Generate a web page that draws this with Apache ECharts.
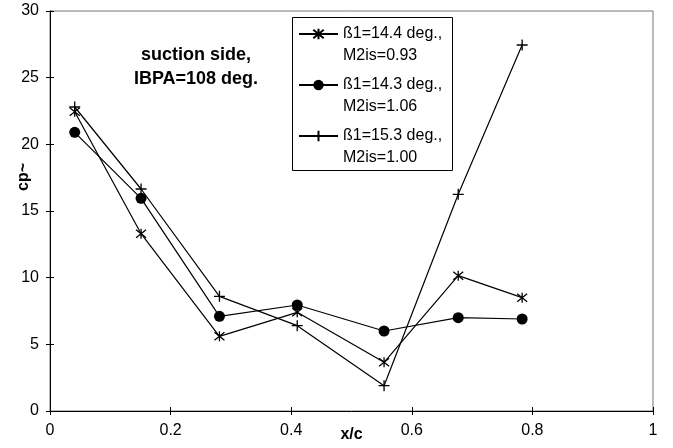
<!DOCTYPE html>
<html>
<head>
<meta charset="utf-8">
<script src="https://cdn.jsdelivr.net/npm/echarts@6/dist/echarts.min.js"></script>
<style>
html,body{margin:0;padding:0;background:#fff;}
#chart{width:673px;height:448px;}
</style>
</head>
<body>
<div id="chart"></div>
<script>
// ---- data ----
var xPositions = [0.041, 0.151, 0.281, 0.41, 0.554, 0.677, 0.783];
var seriesNames = ['ß1=14.4 deg.,\nM2is=0.93', 'ß1=14.3 deg.,\nM2is=1.06', 'ß1=15.3 deg.,\nM2is=1.00'];
var cpA = [22.45, 13.3, 5.6, 7.4, 3.65, 10.15, 8.5];
var cpB = [20.9, 15.95, 7.1, 7.95, 6.0, 7.0, 6.9];
var cpC = [22.8, 16.65, 8.6, 6.4, 1.9, 16.25, 27.45];
var xTicks = {min: 0, max: 1, interval: 0.2};
var yTicks = {min: 0, max: 30, interval: 5};
var xTitle = 'x/c';
var yTitle = 'cp~';
var noteText = 'suction side,\nIBPA=108 deg.';

function pairs(xs, ys) { return xs.map(function (x, i) { return [x, ys[i]]; }); }

var FONT = '"Liberation Sans", Arial, sans-serif';
var chart = echarts.init(document.getElementById('chart'), null, {renderer: 'canvas'});

var baseLine = {color: '#000', width: 1.2};
var gridBox = {left: 50, right: 20, top: 11, bottom: 37, outerBoundsMode: 'none', containLabel: false};
var option = {
  animation: false,
  backgroundColor: '#fff',
  grid: [
    Object.assign({show: true, borderColor: '#777', borderWidth: 1}, gridBox),
    Object.assign({show: false}, gridBox)
  ],
  xAxis: [
    {
      type: 'value', gridIndex: 0, position: 'bottom',
      min: xTicks.min, max: xTicks.max, interval: xTicks.interval,
      axisLine: {show: true, lineStyle: {color: '#000', width: 1}},
      axisTick: {show: true, inside: false, length: 4, lineStyle: {color: '#000'}},
      axisLabel: {color: '#000', fontSize: 16, fontFamily: FONT, margin: 12},
      splitLine: {show: false},
      name: xTitle, nameLocation: 'middle', nameGap: 16, nameMoveOverlap: false,
      nameTextStyle: {color: '#000', fontSize: 16, fontWeight: 'bold', fontFamily: FONT}
    },
    {
      type: 'value', gridIndex: 1, position: 'bottom',
      min: xTicks.min, max: xTicks.max, interval: xTicks.interval,
      axisLine: {show: false},
      axisTick: {show: true, inside: true, length: 4, lineStyle: {color: '#000'}},
      axisLabel: {show: false},
      splitLine: {show: false}
    }
  ],
  yAxis: [
    {
      type: 'value', gridIndex: 0, position: 'left',
      min: yTicks.min, max: yTicks.max, interval: yTicks.interval,
      axisLine: {show: true, lineStyle: {color: '#000', width: 1}},
      axisTick: {show: true, inside: false, length: 4, lineStyle: {color: '#000'}},
      axisLabel: {color: '#000', fontSize: 16, fontFamily: FONT, margin: 11},
      splitLine: {show: false},
      name: yTitle, nameLocation: 'middle', nameGap: 18, nameRotate: 90, nameMoveOverlap: false,
      nameTextStyle: {color: '#000', fontSize: 16, fontWeight: 'bold', fontFamily: FONT, padding: [0, 0, 0, 68]}
    },
    {
      type: 'value', gridIndex: 1, position: 'left',
      min: yTicks.min, max: yTicks.max, interval: yTicks.interval,
      axisLine: {show: false},
      axisTick: {show: true, inside: true, length: 4, lineStyle: {color: '#000'}},
      axisLabel: {show: false},
      splitLine: {show: false}
    }
  ],
  legend: {
    orient: 'vertical', left: 293, top: -1,
    itemWidth: 39, itemHeight: 13, itemGap: -9,
    selectedMode: false,
    formatter: function (name) {
      return '{t| }\n' + name.split('\n').map(function (s) { return '{t|' + s + '}'; }).join('\n');
    },
    textStyle: {color: '#000', fontSize: 16, fontFamily: FONT,
      rich: {t: {color: '#000', fontSize: 16, fontFamily: FONT, lineHeight: 22}}},
    data: seriesNames
  },
  graphic: [
    {type: 'rect', shape: {x: 292.5, y: 17.5, width: 160, height: 153}, style: {fill: 'none', stroke: '#000', lineWidth: 1}, silent: true},
    {type: 'text', x: 196, y: 67, style: {text: noteText, fill: '#000', font: 'bold 18px ' + FONT, lineHeight: 24,
      textAlign: 'center', textVerticalAlign: 'middle', align: 'center', verticalAlign: 'middle'}, silent: true}
  ],
  series: [
    {
      name: seriesNames[0], type: 'line', xAxisIndex: 0, yAxisIndex: 0,
      data: pairs(xPositions, cpA),
      symbol: 'path://M1,1L9,9M9,1L1,9M5,0L5,10', symbolSize: 10,
      lineStyle: baseLine,
      itemStyle: {color: 'rgba(0,0,0,0)', borderColor: '#000', borderWidth: 1.3},
      emphasis: {disabled: true}
    },
    {
      name: seriesNames[1], type: 'line', xAxisIndex: 0, yAxisIndex: 0,
      data: pairs(xPositions, cpB),
      symbol: 'circle', symbolSize: 11,
      lineStyle: baseLine,
      itemStyle: {color: '#000', borderColor: '#000', borderWidth: 0},
      emphasis: {disabled: true}
    },
    {
      name: seriesNames[2], type: 'line', xAxisIndex: 0, yAxisIndex: 0,
      data: pairs(xPositions, cpC),
      symbol: 'path://M0,5L10,5M5,0L5,10', symbolSize: 11,
      lineStyle: baseLine,
      itemStyle: {color: 'rgba(0,0,0,0)', borderColor: '#000', borderWidth: 1.3},
      emphasis: {disabled: true}
    }
  ]
};
chart.setOption(option);
</script>
</body>
</html>
